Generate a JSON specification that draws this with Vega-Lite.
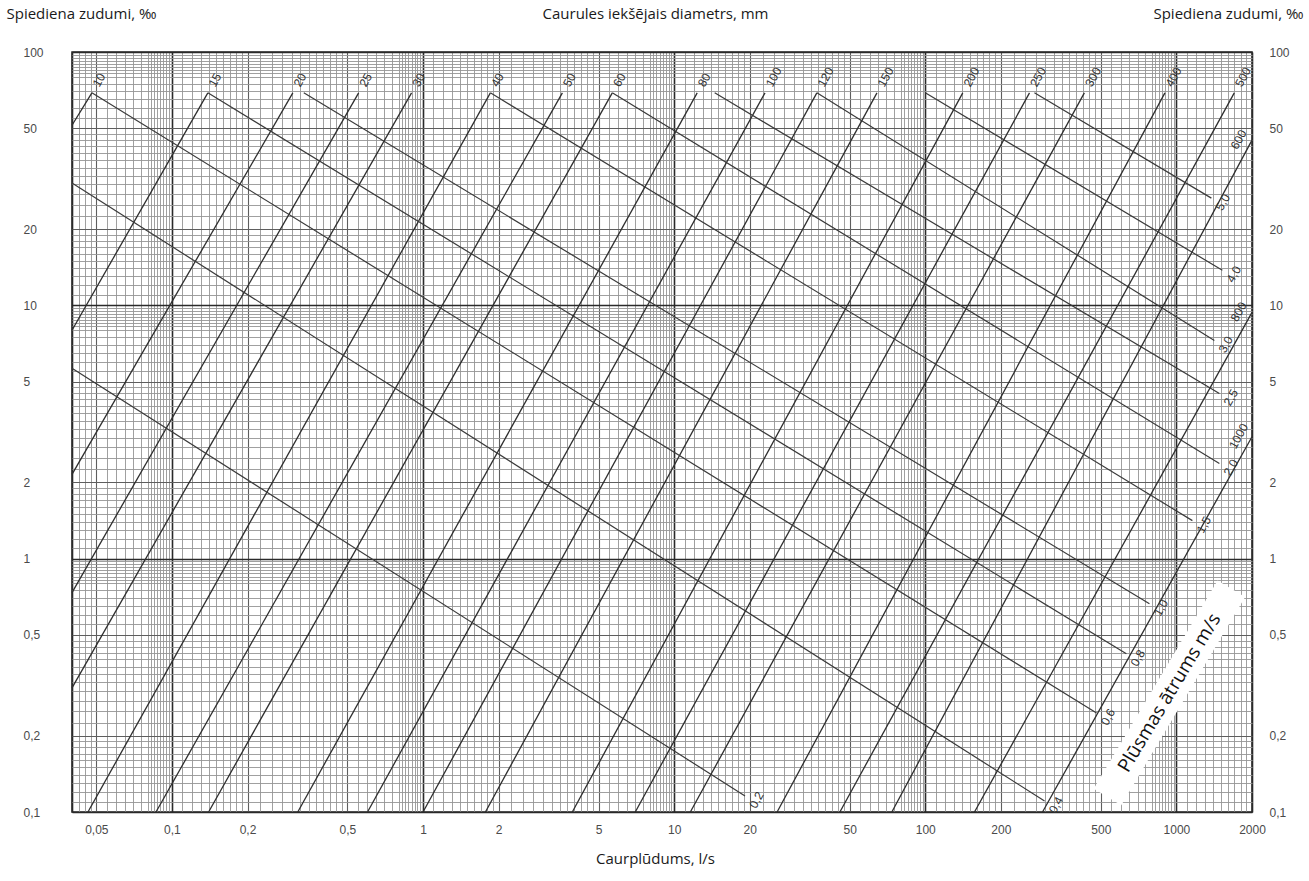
{
  "$schema": "https://vega.github.io/schema/vega-lite/v6.json",
  "width": 1180,
  "height": 760,
  "autosize": {"type": "none"},
  "padding": {"left": 72, "top": 52, "right": 57, "bottom": 69},
  "background": "white",
  "config": {"view": {"stroke": "#222222", "strokeWidth": 1.5}, "font": "Open Sans"},
  "datasets": {
    "diam": [
      {"d": "10", "q": 0.048, "j": 69}, {"d": "10", "q": 0.04, "j": 51.4},
      {"d": "15", "q": 0.139, "j": 69}, {"d": "15", "q": 0.04, "j": 7.97},
      {"d": "20", "q": 0.303, "j": 69}, {"d": "20", "q": 0.04, "j": 2.15},
      {"d": "25", "q": 0.554, "j": 69}, {"d": "25", "q": 0.04, "j": 0.734},
      {"d": "30", "q": 0.9, "j": 69}, {"d": "30", "q": 0.04, "j": 0.309},
      {"d": "40", "q": 1.854, "j": 69}, {"d": "40", "q": 0.0463, "j": 0.1},
      {"d": "50", "q": 3.587, "j": 69}, {"d": "50", "q": 0.0864, "j": 0.1},
      {"d": "60", "q": 5.67, "j": 69}, {"d": "60", "q": 0.14, "j": 0.1},
      {"d": "80", "q": 12.35, "j": 69}, {"d": "80", "q": 0.317, "j": 0.1},
      {"d": "100", "q": 23.0, "j": 69}, {"d": "100", "q": 0.601, "j": 0.1},
      {"d": "120", "q": 37.0, "j": 69}, {"d": "120", "q": 1.0, "j": 0.1},
      {"d": "150", "q": 64.2, "j": 69}, {"d": "150", "q": 1.772, "j": 0.1},
      {"d": "200", "q": 141, "j": 69}, {"d": "200", "q": 3.93, "j": 0.1},
      {"d": "250", "q": 260, "j": 69}, {"d": "250", "q": 7.0, "j": 0.1},
      {"d": "300", "q": 430, "j": 69}, {"d": "300", "q": 11.6, "j": 0.1},
      {"d": "400", "q": 900, "j": 69}, {"d": "400", "q": 25.7, "j": 0.1},
      {"d": "500", "q": 1700, "j": 69}, {"d": "500", "q": 45.7, "j": 0.1},
      {"d": "600", "q": 2000, "j": 44.9}, {"d": "600", "q": 73.6, "j": 0.1},
      {"d": "800", "q": 2000, "j": 9.38}, {"d": "800", "q": 157, "j": 0.1},
      {"d": "1000", "q": 2000, "j": 3.03}, {"d": "1000", "q": 293, "j": 0.1}
    ],
    "vel": [
      {"v": "0,2", "q": 0.04, "j": 5.64}, {"v": "0,2", "q": 19.15, "j": 0.1157},
      {"v": "0,4", "q": 0.04, "j": 30.4}, {"v": "0,4", "q": 298.5, "j": 0.1105},
      {"v": "0,6", "q": 0.048, "j": 69}, {"v": "0,6", "q": 481, "j": 0.246},
      {"v": "0,8", "q": 0.139, "j": 69}, {"v": "0,8", "q": 632, "j": 0.421},
      {"v": "1,0", "q": 0.335, "j": 69}, {"v": "1,0", "q": 781, "j": 0.664},
      {"v": "1,5", "q": 1.854, "j": 69}, {"v": "1,5", "q": 1158, "j": 1.413},
      {"v": "2,0", "q": 5.67, "j": 69}, {"v": "2,0", "q": 1483, "j": 2.374},
      {"v": "2,5", "q": 14.5, "j": 69}, {"v": "2,5", "q": 1483, "j": 4.49},
      {"v": "3,0", "q": 37.0, "j": 69}, {"v": "3,0", "q": 1416, "j": 7.27},
      {"v": "4,0", "q": 100, "j": 69}, {"v": "4,0", "q": 1524, "j": 13.75},
      {"v": "5,0", "q": 272, "j": 69}, {"v": "5,0", "q": 1378, "j": 26.5}
    ],
    "vlab": [
      {"label": "0,2", "q": 19.15, "j": 0.1157},
      {"label": "0,4", "q": 298.5, "j": 0.1105},
      {"label": "0,6", "q": 481, "j": 0.246},
      {"label": "0,8", "q": 632, "j": 0.421},
      {"label": "1,0", "q": 781, "j": 0.664},
      {"label": "1,5", "q": 1158, "j": 1.413},
      {"label": "2,0", "q": 1483, "j": 2.374},
      {"label": "2,5", "q": 1483, "j": 4.49},
      {"label": "3,0", "q": 1416, "j": 7.27},
      {"label": "4,0", "q": 1524, "j": 13.75},
      {"label": "5,0", "q": 1378, "j": 26.5}
    ],
    "dlab": [
      {"label": "10", "q": 0.048, "j": 69},
      {"label": "15", "q": 0.139, "j": 69},
      {"label": "20", "q": 0.303, "j": 69},
      {"label": "25", "q": 0.554, "j": 69},
      {"label": "30", "q": 0.9, "j": 69},
      {"label": "40", "q": 1.854, "j": 69},
      {"label": "50", "q": 3.587, "j": 69},
      {"label": "60", "q": 5.67, "j": 69},
      {"label": "80", "q": 12.35, "j": 69},
      {"label": "100", "q": 23.0, "j": 69},
      {"label": "120", "q": 37.0, "j": 69},
      {"label": "150", "q": 64.2, "j": 69},
      {"label": "200", "q": 141, "j": 69},
      {"label": "250", "q": 260, "j": 69},
      {"label": "300", "q": 430, "j": 69},
      {"label": "400", "q": 900, "j": 69},
      {"label": "500", "q": 1700, "j": 69}
    ],
    "elab": [
      {"label": "600", "q": 2000, "j": 44.9},
      {"label": "800", "q": 2000, "j": 9.38},
      {"label": "1000", "q": 2000, "j": 3.03}
    ],
    "band": [
      {"q": 531.6, "j": 0.1146, "q2": 1655, "j2": 0.761}
    ],
    "note": [
      {"label": "Plūsmas ātrums m/s", "q": 937.6, "j": 0.2954}
    ]
  },
  "resolve": {"axis": {"x": "independent", "y": "independent"}},
  "layer": [
    {
      "data": {"name": "diam"},
      "mark": {"type": "line", "stroke": "#2e2e2e", "strokeWidth": 1.3},
      "encoding": {
        "x": {
          "field": "q", "type": "quantitative",
          "scale": {"type": "log", "domain": [0.04, 2000], "nice": false},
          "axis": {
            "orient": "bottom",
            "values": [0.04,0.0425,0.045,0.0475,0.05,0.055,0.06,0.065,0.07,0.075,0.08,0.0825,0.085,0.0875,0.09,0.0925,0.095,0.0975,
              0.1,0.11,0.12,0.13,0.14,0.15,0.16,0.17,0.18,0.19,0.2,0.225,0.25,0.275,0.3,0.325,0.35,0.375,0.4,0.425,0.45,0.475,0.5,0.55,0.6,0.65,0.7,0.75,0.8,0.825,0.85,0.875,0.9,0.925,0.95,0.975,
              1,1.1,1.2,1.3,1.4,1.5,1.6,1.7,1.8,1.9,2,2.25,2.5,2.75,3,3.25,3.5,3.75,4,4.25,4.5,4.75,5,5.5,6,6.5,7,7.5,8,8.25,8.5,8.75,9,9.25,9.5,9.75,
              10,11,12,13,14,15,16,17,18,19,20,22.5,25,27.5,30,32.5,35,37.5,40,42.5,45,47.5,50,55,60,65,70,75,80,82.5,85,87.5,90,92.5,95,97.5,
              100,110,120,130,140,150,160,170,180,190,200,225,250,275,300,325,350,375,400,425,450,475,500,550,600,650,700,750,800,825,850,875,900,925,950,975,
              1000,1100,1200,1300,1400,1500,1600,1700,1800,1900,2000],
            "grid": true,
            "gridColor": {"condition": [
              {"test": "indexof([0.04,0.1,1,10,100,1000,2000], datum.value) >= 0", "value": "#2a2a2a"},
              {"test": "indexof([0.05,0.2,0.5,2,5,20,50,200,500], datum.value) >= 0", "value": "#5e5e5e"}
            ], "value": "#959595"},
            "gridWidth": {"condition": [
              {"test": "indexof([0.04,0.1,1,10,100,1000,2000], datum.value) >= 0", "value": 1.6},
              {"test": "indexof([0.05,0.2,0.5,2,5,20,50,200,500], datum.value) >= 0", "value": 1.1}
            ], "value": 0.9},
            "ticks": false, "tickSize": 0, "domain": false,
            "labelExpr": "indexof([0.05,0.1,0.2,0.5,1,2,5,10,20,50,100,200,500,1000,2000], datum.value) >= 0 ? replace(toString(datum.value), '.', ',') : ''",
            "labelOverlap": false, "labelFlush": false, "labelBound": false,
            "labelPadding": 12, "labelFont": "Liberation Sans", "labelFontSize": 12, "labelColor": "#4a4a4a",
            "title": "Caurplūdums, l/s", "titleX": 583, "titleY": 46, "titleAlign": "center", "titleBaseline": "middle",
            "titleFont": "Open Sans", "titleFontSize": 15, "titleFontWeight": "normal", "titleColor": "#1a1a1a"
          }
        },
        "y": {
          "field": "j", "type": "quantitative",
          "scale": {"type": "log", "domain": [0.1, 100], "nice": false},
          "axis": {
            "orient": "left",
            "values": [0.1,0.11,0.12,0.13,0.14,0.15,0.16,0.17,0.18,0.19,0.2,0.225,0.25,0.275,0.3,0.325,0.35,0.375,0.4,0.425,0.45,0.475,0.5,0.55,0.6,0.65,0.7,0.75,0.8,0.825,0.85,0.875,0.9,0.925,0.95,0.975,
              1,1.1,1.2,1.3,1.4,1.5,1.6,1.7,1.8,1.9,2,2.25,2.5,2.75,3,3.25,3.5,3.75,4,4.25,4.5,4.75,5,5.5,6,6.5,7,7.5,8,8.25,8.5,8.75,9,9.25,9.5,9.75,
              10,11,12,13,14,15,16,17,18,19,20,22.5,25,27.5,30,32.5,35,37.5,40,42.5,45,47.5,50,55,60,65,70,75,80,82.5,85,87.5,90,92.5,95,97.5,100],
            "grid": true,
            "gridColor": {"condition": [
              {"test": "indexof([0.1,1,10,100], datum.value) >= 0", "value": "#2a2a2a"},
              {"test": "indexof([0.2,0.5,2,5,20,50], datum.value) >= 0", "value": "#5e5e5e"}
            ], "value": "#959595"},
            "gridWidth": {"condition": [
              {"test": "indexof([0.1,1,10,100], datum.value) >= 0", "value": 1.6},
              {"test": "indexof([0.2,0.5,2,5,20,50], datum.value) >= 0", "value": 1.1}
            ], "value": 0.9},
            "ticks": false, "tickSize": 0, "domain": false,
            "labelExpr": "indexof([0.1,0.2,0.5,1,2,5,10,20,50,100], datum.value) >= 0 ? replace(toString(datum.value), '.', ',') : ''",
            "labelOverlap": false, "labelFlush": false, "labelBound": false,
            "labelAlign": "left", "labelBaseline": "middle", "labelPadding": 49,
            "labelFont": "Liberation Sans", "labelFontSize": 12, "labelColor": "#4a4a4a",
            "title": "Spiediena zudumi, ‰", "titleAngle": 0, "titleX": -66, "titleY": -39, "titleAlign": "left", "titleBaseline": "middle",
            "titleFont": "Open Sans", "titleFontSize": 15, "titleFontWeight": "normal", "titleColor": "#1a1a1a"
          }
        },
        "detail": {"field": "d", "type": "nominal"}
      }
    },
    {
      "data": {"name": "vel"},
      "mark": {"type": "line", "stroke": "#3a3a3a", "strokeWidth": 1.2},
      "encoding": {
        "x": {
          "field": "q", "type": "quantitative",
          "scale": {"type": "log", "domain": [0.04, 2000], "nice": false},
          "axis": {
            "orient": "top", "labels": false, "ticks": false, "domain": false, "grid": false,
            "title": "Caurules iekšējais diametrs, mm", "titleX": 583, "titleY": -39, "titleAlign": "center", "titleBaseline": "middle",
            "titleFont": "Open Sans", "titleFontSize": 15, "titleFontWeight": "normal", "titleColor": "#1a1a1a"
          }
        },
        "y": {
          "field": "j", "type": "quantitative",
          "scale": {"type": "log", "domain": [0.1, 100], "nice": false},
          "axis": {
            "orient": "right", "values": [0.1,0.2,0.5,1,2,5,10,20,50,100],
            "grid": false, "ticks": false, "tickSize": 0, "domain": false,
            "labelExpr": "replace(toString(datum.value), '.', ',')",
            "labelOverlap": false, "labelFlush": false, "labelBound": false,
            "labelAlign": "left", "labelBaseline": "middle", "labelPadding": 17,
            "labelFont": "Liberation Sans", "labelFontSize": 12, "labelColor": "#4a4a4a",
            "title": "Spiediena zudumi, ‰", "titleAngle": 0, "titleX": 51, "titleY": -39, "titleAlign": "right", "titleBaseline": "middle",
            "titleFont": "Open Sans", "titleFontSize": 15, "titleFontWeight": "normal", "titleColor": "#1a1a1a"
          }
        },
        "detail": {"field": "v", "type": "nominal"}
      }
    },
    {
      "data": {"name": "band"},
      "mark": {"type": "rule", "stroke": "white", "strokeWidth": 32, "strokeCap": "butt"},
      "encoding": {
        "x": {"field": "q", "type": "quantitative", "scale": {"type": "log", "domain": [0.04, 2000], "nice": false}, "axis": null},
        "y": {"field": "j", "type": "quantitative", "scale": {"type": "log", "domain": [0.1, 100], "nice": false}, "axis": null},
        "x2": {"field": "q2"},
        "y2": {"field": "j2"}
      }
    },
    {
      "data": {"name": "note"},
      "mark": {"type": "text", "angle": -59, "align": "center", "baseline": "middle", "font": "Open Sans", "fontSize": 19, "fill": "#111111"},
      "encoding": {
        "x": {"field": "q", "type": "quantitative", "scale": {"type": "log", "domain": [0.04, 2000], "nice": false}, "axis": null},
        "y": {"field": "j", "type": "quantitative", "scale": {"type": "log", "domain": [0.1, 100], "nice": false}, "axis": null},
        "text": {"field": "label"}
      }
    },
    {
      "data": {"name": "dlab"},
      "mark": {"type": "text", "angle": -61, "align": "left", "baseline": "middle", "dx": 8, "font": "Liberation Sans", "fontSize": 12, "fill": "#333333"},
      "encoding": {
        "x": {"field": "q", "type": "quantitative", "scale": {"type": "log", "domain": [0.04, 2000], "nice": false}, "axis": null},
        "y": {"field": "j", "type": "quantitative", "scale": {"type": "log", "domain": [0.1, 100], "nice": false}, "axis": null},
        "text": {"field": "label"}
      }
    },
    {
      "data": {"name": "elab"},
      "mark": {"type": "text", "angle": -61, "align": "center", "baseline": "middle", "dx": -6, "dy": -12, "font": "Liberation Sans", "fontSize": 12, "fill": "#333333"},
      "encoding": {
        "x": {"field": "q", "type": "quantitative", "scale": {"type": "log", "domain": [0.04, 2000], "nice": false}, "axis": null},
        "y": {"field": "j", "type": "quantitative", "scale": {"type": "log", "domain": [0.1, 100], "nice": false}, "axis": null},
        "text": {"field": "label"}
      }
    },
    {
      "data": {"name": "vlab"},
      "mark": {"type": "text", "angle": -61, "align": "center", "baseline": "middle", "dx": 2, "dy": 12, "font": "Liberation Sans", "fontSize": 12, "fill": "#333333"},
      "encoding": {
        "x": {"field": "q", "type": "quantitative", "scale": {"type": "log", "domain": [0.04, 2000], "nice": false}, "axis": null},
        "y": {"field": "j", "type": "quantitative", "scale": {"type": "log", "domain": [0.1, 100], "nice": false}, "axis": null},
        "text": {"field": "label"}
      }
    }
  ]
}
